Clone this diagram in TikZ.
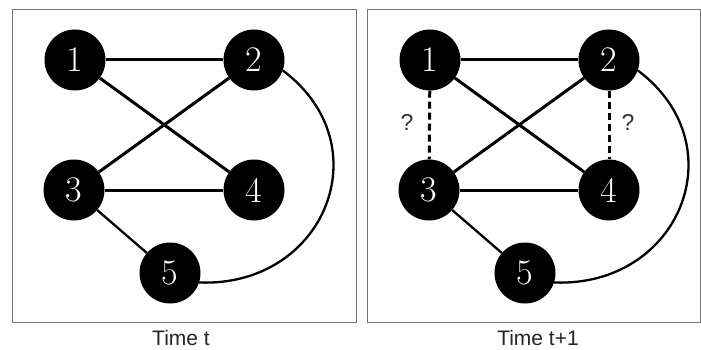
\documentclass[tikz,border=0pt]{standalone}
\usepackage{fontspec}
\setsansfont{Liberation Sans}
\begin{document}
\begin{tikzpicture}[x=1pt,y=-1pt,
  vtx/.style={circle, fill=black, minimum size=61pt, inner sep=0pt,
    text=white, font=\fontsize{36}{36}\selectfont},
  edge/.style={line width=3pt},
  thinedge/.style={line width=2.3pt},
  guess/.style={line width=3pt, dash pattern=on 7pt off 4pt},
  frame/.style={draw=black!55, line width=1.1pt},
  caption/.style={font=\fontsize{21}{21}\selectfont\sffamily, text=black!85},
  qmark/.style={font=\fontsize{23}{23}\selectfont\sffamily, text=black!80}]
\useasboundingbox (0,0) rectangle (701,350);
\fill[white] (0,0) rectangle (701,350);

% ---- left panel: time t ----
\draw[frame] (12.5,9.5) rectangle (356.5,322.5);
\node[vtx] (a1) at (75,60) {1};
\node[vtx] (a2) at (254,60) {2};
\node[vtx] (a3) at (74,190) {3};
\node[vtx] (a4) at (254,190) {4};
\node[vtx] (a5) at (170,273) {5};
\draw[edge] (a1) -- (a2);
\draw[edge] (a1) -- (a4);
\draw[edge] (a2) -- (a3);
\draw[edge] (a3) -- (a4);
\draw[thinedge] (a3) -- (a5);
\draw[thinedge] (a2.-20) .. controls +(100,75) and +(125,5) .. (a5.-18);
\node[caption] (capa) at (181,338) {Time t};

% ---- right panel: time t+1 ----
\draw[frame] (367.5,9.5) rectangle (700.5,322.5);
\node[vtx] (b1) at (430,60) {1};
\node[vtx] (b2) at (609,60) {2};
\node[vtx] (b3) at (429,190) {3};
\node[vtx] (b4) at (609,190) {4};
\node[vtx] (b5) at (525,273) {5};
\draw[edge] (b1) -- (b2);
\draw[edge] (b1) -- (b4);
\draw[edge] (b2) -- (b3);
\draw[edge] (b3) -- (b4);
\draw[thinedge] (b3) -- (b5);
\draw[thinedge] (b2.-20) .. controls +(100,75) and +(125,5) .. (b5.-18);
\draw[guess] (b1) -- (b3);
\draw[guess] (b2) -- (b4);
\node[qmark] (qa) at (407,122) {?};
\node[qmark] (qb) at (628,122) {?};
\node[caption] (capb) at (538,338) {Time t+1};
\end{tikzpicture}
\end{document}
